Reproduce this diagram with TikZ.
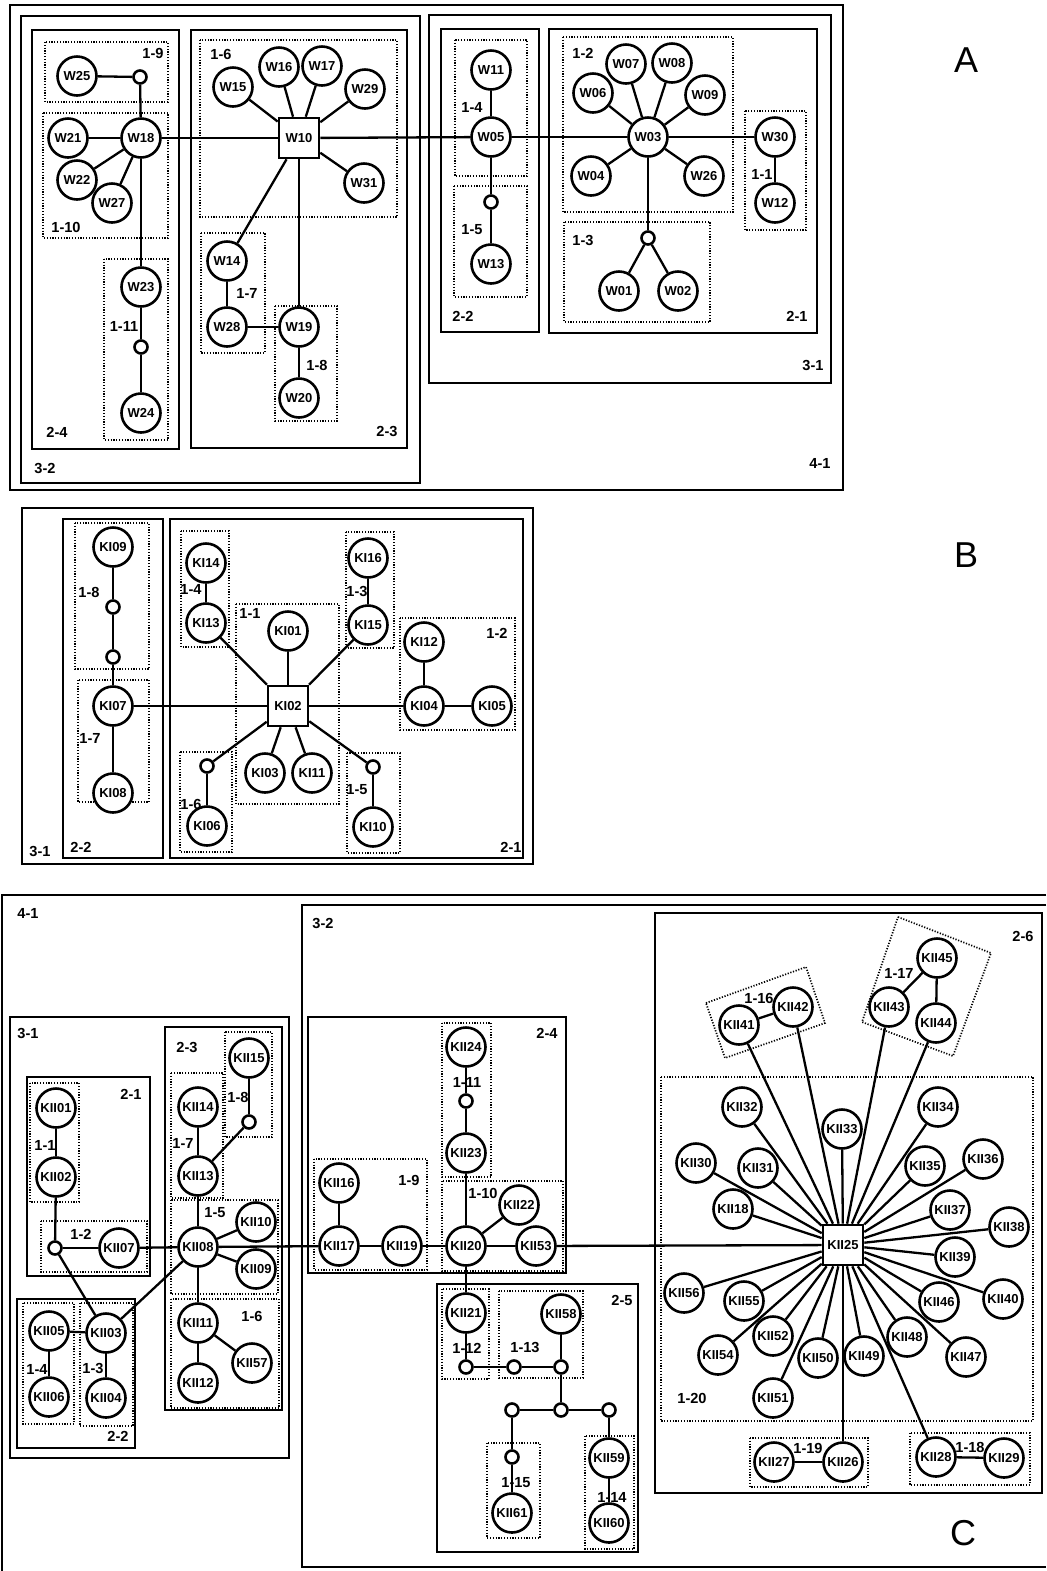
\documentclass[tikz,border=0pt]{standalone}
\usepackage{fontspec}
\setmainfont{Liberation Sans}
\begin{document}
\begin{tikzpicture}[x=0.5pt,y=-0.5pt,
  nd/.style={circle,draw,line width=1.3pt,minimum size=19.5pt,inner sep=0pt,fill=white,font=\fontsize{6.5}{7}\selectfont\bfseries},
  sq/.style={rectangle,draw,line width=1.3pt,minimum size=20pt,inner sep=0pt,fill=white,font=\fontsize{6.5}{7}\selectfont\bfseries},
  sm/.style={circle,draw,line width=1.3pt,minimum size=6.5pt,inner sep=0pt,fill=white},
  edge/.style={line width=1.15pt},
  box/.style={line width=1.1pt},
  dbox/.style={line width=0.85pt,dash pattern=on 0.6pt off 0.8pt},
  lab/.style={inner sep=0pt,font=\fontsize{7.3}{8}\selectfont\bfseries},
  big/.style={inner sep=0pt,font=\fontsize{18}{20}\selectfont}]
\useasboundingbox (0,0) rectangle (1046,1571);
\fill[white] (0,0) rectangle (1046,1571);

%%%%%%%%%%%%%%%% PANEL A %%%%%%%%%%%%%%%%
\draw[box] (10,5) rectangle (843,490);
\draw[box] (21,16) rectangle (420,483);
\draw[box] (429,15) rectangle (831,383);
\draw[box] (32,30) rectangle (179,449);
\draw[box] (191,30) rectangle (407,448);
\draw[box] (441,29) rectangle (539,332);
\draw[box] (549,29) rectangle (817,333);
\draw[dbox] (45,42) rectangle (168,102);
\draw[dbox] (43,113) rectangle (168,238);
\draw[dbox] (104,259) rectangle (168,440);
\draw[dbox] (200,40) rectangle (397,217);
\draw[dbox] (201,233) rectangle (265,353);
\draw[dbox] (275,306) rectangle (337,421);
\draw[dbox] (455,40) rectangle (527,176);
\draw[dbox] (454,186) rectangle (527,297);
\draw[dbox] (563,37) rectangle (733,212);
\draw[dbox] (564,222) rectangle (710,322);
\draw[dbox] (745,111) rectangle (806,230);

\node[lab] (lA19) at (153,53) {1-9};
\node[lab] (lA110) at (66,227) {1-10};
\node[lab] (lA16) at (221,54) {1-6};
\node[lab] (lA111) at (124,326) {1-11};
\node[lab] (lA24) at (57,432) {2-4};
\node[lab] (lA32) at (45,468) {3-2};
\node[lab] (lA17) at (247,293) {1-7};
\node[lab] (lA18) at (317,365) {1-8};
\node[lab] (lA23) at (387,431) {2-3};
\node[lab] (lA14) at (472,107) {1-4};
\node[lab] (lA15) at (472,230) {1-5};
\node[lab] (lA12) at (583,53) {1-2};
\node[lab] (lA13) at (583,240) {1-3};
\node[lab] (lA11) at (762,174) {1-1};
\node[lab] (lA22) at (463,316) {2-2};
\node[lab] (lA21) at (797,316) {2-1};
\node[lab] (lA31) at (813,365) {3-1};
\node[lab] (lA41) at (820,463) {4-1};
\node[big] (lA) at (966,60) {A};

\node[nd] (W25) at (77,76) {W25};
\node[sm] (a19) at (140,77) {};
\node[nd] (W18) at (141,138) {W18};
\node[nd] (W21) at (68,138) {W21};
\node[nd] (W22) at (77,180) {W22};
\node[nd] (W27) at (112,203) {W27};
\node[sq] (W10) at (299,138) {W10};
\node[nd] (W15) at (233,87) {W15};
\node[nd] (W16) at (279,67) {W16};
\node[nd] (W17) at (322,66) {W17};
\node[nd] (W29) at (365,89) {W29};
\node[nd] (W31) at (364,183) {W31};
\node[nd] (W14) at (227,261) {W14};
\node[nd] (W28) at (227,327) {W28};
\node[nd] (W19) at (299,327) {W19};
\node[nd] (W20) at (299,398) {W20};
\node[nd] (W23) at (141,287) {W23};
\node[sm] (a111) at (141,347) {};
\node[nd] (W24) at (141,413) {W24};
\node[nd] (W11) at (491,70) {W11};
\node[nd] (W05) at (491,137) {W05};
\node[sm] (a15) at (491,202) {};
\node[nd] (W13) at (491,264) {W13};
\node[nd] (W03) at (648,137) {W03};
\node[nd] (W06) at (593,93) {W06};
\node[nd] (W07) at (626,64) {W07};
\node[nd] (W08) at (672,63) {W08};
\node[nd] (W09) at (705,95) {W09};
\node[nd] (W04) at (591,176) {W04};
\node[nd] (W26) at (704,176) {W26};
\node[nd] (W30) at (775,137) {W30};
\node[nd] (W12) at (775,203) {W12};
\node[sm] (a13) at (648,238) {};
\node[nd] (W01) at (619,291) {W01};
\node[nd] (W02) at (678,291) {W02};

\draw[edge] (W25) -- (a19);
\draw[edge] (a19) -- (W18);
\draw[edge] (W18) -- (W21);
\draw[edge] (W18) -- (W22);
\draw[edge] (W18) -- (W27);
\draw[edge] (W18) -- (W23);
\draw[edge] (W23) -- (a111);
\draw[edge] (a111) -- (W24);
\draw[edge] (W18) -- (W10);
\draw[edge] (W10) -- (W15);
\draw[edge] (W10) -- (W16);
\draw[edge] (W10) -- (W17);
\draw[edge] (W10) -- (W29);
\draw[edge] (W10) -- (W31);
\draw[edge] (W10) -- (W14);
\draw[edge] (W10) -- (W19);
\draw[edge] (W14) -- (W28);
\draw[edge] (W28) -- (W19);
\draw[edge] (W19) -- (W20);
\draw[edge] (W10) -- (W05);
\draw[edge] (W05) -- (W11);
\draw[edge] (W05) -- (a15);
\draw[edge] (a15) -- (W13);
\draw[edge] (W05) -- (W03);
\draw[edge] (W03) -- (W06);
\draw[edge] (W03) -- (W07);
\draw[edge] (W03) -- (W08);
\draw[edge] (W03) -- (W09);
\draw[edge] (W03) -- (W04);
\draw[edge] (W03) -- (W26);
\draw[edge] (W03) -- (W30);
\draw[edge] (W30) -- (W12);
\draw[edge] (W03) -- (a13);
\draw[edge] (a13) -- (W01);
\draw[edge] (a13) -- (W02);

%%%%%%%%%%%%%%%% PANEL B %%%%%%%%%%%%%%%%
\draw[box] (22,508) rectangle (533,864);
\draw[box] (63,519) rectangle (163,858);
\draw[box] (170,519) rectangle (523,858);
\draw[dbox] (75,523) rectangle (149,669);
\draw[dbox] (78,680) rectangle (149,802);
\draw[dbox] (181,531) rectangle (229,647);
\draw[dbox] (236,604) rectangle (339,804);
\draw[dbox] (180,752) rectangle (232,852);
\draw[dbox] (346,532) rectangle (394,648);
\draw[dbox] (400,618) rectangle (515,730);
\draw[dbox] (347,753) rectangle (400,853);

\node[lab] (lB18) at (89,592) {1-8};
\node[lab] (lB17) at (90,738) {1-7};
\node[lab] (lB14) at (191,589) {1-4};
\node[lab] (lB11) at (250,613) {1-1};
\node[lab] (lB16) at (191,804) {1-6};
\node[lab] (lB31) at (40,851) {3-1};
\node[lab] (lB22) at (81,847) {2-2};
\node[lab] (lB13) at (357,591) {1-3};
\node[lab] (lB12) at (497,633) {1-2};
\node[lab] (lB15) at (357,790) {1-5};
\node[lab] (lB21) at (511,847) {2-1};
\node[big] (lB) at (966,555) {B};

\node[nd] (KI09) at (113,547) {KI09};
\node[sm] (b1) at (113,607) {};
\node[sm] (b2) at (113,657) {};
\node[nd] (KI07) at (113,706) {KI07};
\node[nd] (KI08) at (113,793) {KI08};
\node[nd] (KI14) at (206,563) {KI14};
\node[nd] (KI13) at (206,623) {KI13};
\node[sq] (KI02) at (288,706) {KI02};
\node[nd] (KI01) at (288,631) {KI01};
\node[nd] (KI03) at (265,773) {KI03};
\node[nd] (KI11) at (312,773) {KI11};
\node[nd] (KI15) at (368,625) {KI15};
\node[nd] (KI16) at (368,558) {KI16};
\node[nd] (KI12) at (424,642) {KI12};
\node[nd] (KI04) at (424,706) {KI04};
\node[nd] (KI05) at (492,706) {KI05};
\node[sm] (b15) at (373,767) {};
\node[nd] (KI10) at (373,827) {KI10};
\node[sm] (b16) at (207,766) {};
\node[nd] (KI06) at (207,826) {KI06};

\draw[edge] (KI09) -- (b1);
\draw[edge] (b1) -- (b2);
\draw[edge] (b2) -- (KI07);
\draw[edge] (KI07) -- (KI08);
\draw[edge] (KI07) -- (KI02);
\draw[edge] (KI02) -- (KI13);
\draw[edge] (KI13) -- (KI14);
\draw[edge] (KI02) -- (KI01);
\draw[edge] (KI02) -- (KI15);
\draw[edge] (KI15) -- (KI16);
\draw[edge] (KI02) -- (KI04);
\draw[edge] (KI04) -- (KI12);
\draw[edge] (KI04) -- (KI05);
\draw[edge] (KI02) -- (b15);
\draw[edge] (b15) -- (KI10);
\draw[edge] (KI02) -- (b16);
\draw[edge] (b16) -- (KI06);
\draw[edge] (KI02) -- (KI03);
\draw[edge] (KI02) -- (KI11);

%%%%%%%%%%%%%%%% PANEL C %%%%%%%%%%%%%%%%
\draw[box] (1046,895) -- (2,895) -- (2,1571);
\draw[box] (1046,905) -- (302,905) -- (302,1567) -- (1046,1567);
\draw[box] (10,1017) rectangle (289,1458);
\draw[box] (27,1077) rectangle (150,1276);
\draw[box] (165,1027) rectangle (282,1410);
\draw[box] (17,1299) rectangle (135,1448);
\draw[box] (308,1017) rectangle (566,1273);
\draw[box] (437,1284) rectangle (638,1552);
\draw[box] (655,913) rectangle (1042,1493);

\draw[dbox] (30,1083) rectangle (79,1202);
\draw[dbox] (41,1221) rectangle (147,1272);
\draw[dbox] (171,1073) rectangle (223,1198);
\draw[dbox] (225,1032) rectangle (272,1137);
\draw[dbox] (171,1200) rectangle (278,1294);
\draw[dbox] (171,1299) rectangle (279,1408);
\draw[dbox] (23,1303) rectangle (74,1424);
\draw[dbox] (80,1303) rectangle (133,1426);
\draw[dbox] (314,1159) rectangle (427,1270);
\draw[dbox] (442,1023) rectangle (491,1177);
\draw[dbox] (442,1181) rectangle (563,1271);
\draw[dbox] (442,1289) rectangle (489,1379);
\draw[dbox] (499,1291) rectangle (583,1378);
\draw[dbox] (487,1443) rectangle (540,1538);
\draw[dbox] (585,1436) rectangle (634,1549);
\draw[dbox] (661,1077) rectangle (1033,1421);
\draw[dbox] (750,1438) rectangle (868,1487);
\draw[dbox] (910,1433) rectangle (1030,1485);
\draw[dbox] (706,1003) -- (806,967) -- (825,1023) -- (725,1058) -- cycle;
\draw[dbox] (898,917) -- (991,953) -- (953,1056) -- (862,1022) -- cycle;

\node[lab] (lC41) at (28,913) {4-1};
\node[lab] (lC31) at (28,1033) {3-1};
\node[lab] (lC23) at (187,1047) {2-3};
\node[lab] (lC21) at (131,1094) {2-1};
\node[lab] (lC11) at (45,1145) {1-1};
\node[lab] (lC18) at (238,1097) {1-8};
\node[lab] (lC17) at (183,1143) {1-7};
\node[lab] (lC15) at (215,1213) {1-5};
\node[lab] (lC12) at (81,1234) {1-2};
\node[lab] (lC16) at (252,1316) {1-6};
\node[lab] (lC14) at (37,1369) {1-4};
\node[lab] (lC13) at (93,1368) {1-3};
\node[lab] (lC22) at (118,1436) {2-2};
\node[lab] (lC32) at (323,923) {3-2};
\node[lab] (lC24) at (547,1033) {2-4};
\node[lab] (lC111) at (467,1082) {1-11};
\node[lab] (lC19) at (409,1180) {1-9};
\node[lab] (lC110) at (483,1193) {1-10};
\node[lab] (lC25) at (622,1300) {2-5};
\node[lab] (lC112) at (467,1348) {1-12};
\node[lab] (lC113) at (525,1347) {1-13};
\node[lab] (lC115) at (516,1483) {1-15};
\node[lab] (lC114) at (612,1497) {1-14};
\node[lab] (lC26) at (1023,936) {2-6};
\node[lab] (lC116) at (759,998) {1-16};
\node[lab] (lC117) at (899,973) {1-17};
\node[lab] (lC120) at (692,1398) {1-20};
\node[lab] (lC119) at (808,1448) {1-19};
\node[lab] (lC118) at (970,1447) {1-18};
\node[big] (lC) at (963,1533) {C};

\node[nd] (c01) at (56,1108) {KII01};
\node[nd] (c02) at (56,1177) {KII02};
\node[sm] (s12) at (55,1248) {};
\node[nd] (c07) at (119,1248) {KII07};
\node[nd] (c03) at (106,1333) {KII03};
\node[nd] (c05) at (49,1331) {KII05};
\node[nd] (c06) at (49,1397) {KII06};
\node[nd] (c04) at (106,1398) {KII04};
\node[nd] (c08) at (198,1247) {KII08};
\node[nd] (c10) at (256,1222) {KII10};
\node[nd] (c09) at (256,1269) {KII09};
\node[nd] (c11) at (198,1323) {KII11};
\node[nd] (c12) at (198,1383) {KII12};
\node[nd] (c57) at (252,1363) {KII57};
\node[nd] (c13) at (198,1176) {KII13};
\node[nd] (c14) at (198,1107) {KII14};
\node[nd] (c15) at (249,1058) {KII15};
\node[sm] (s18) at (249,1122) {};
\node[nd] (c16) at (339,1183) {KII16};
\node[nd] (c17) at (339,1246) {KII17};
\node[nd] (c19) at (402,1246) {KII19};
\node[nd] (c20) at (466,1246) {KII20};
\node[nd] (c53) at (536,1246) {KII53};
\node[nd] (c22) at (519,1205) {KII22};
\node[nd] (c23) at (466,1153) {KII23};
\node[sm] (s111) at (466,1101) {};
\node[nd] (c24) at (466,1047) {KII24};
\node[nd] (c21) at (466,1313) {KII21};
\node[sm] (s112) at (466,1367) {};
\node[sm] (s113a) at (514,1367) {};
\node[sm] (s113b) at (561,1367) {};
\node[nd] (c58) at (561,1314) {KII58};
\node[sm] (sc) at (561,1410) {};
\node[sm] (sl) at (512,1410) {};
\node[sm] (sr) at (609,1410) {};
\node[sm] (s115) at (512,1457) {};
\node[nd] (c61) at (512,1513) {KII61};
\node[nd] (c59) at (609,1458) {KII59};
\node[nd] (c60) at (609,1523) {KII60};

\node[sq] (c25) at (843,1245) {KII25};
\node[nd] (c41) at (739,1025) {KII41};
\node[nd] (c42) at (793,1007) {KII42};
\node[nd] (c43) at (889,1007) {KII43};
\node[nd] (c44) at (936,1023) {KII44};
\node[nd] (c45) at (937,958) {KII45};
\node[nd] (c32) at (742,1107) {KII32};
\node[nd] (c33) at (842,1129) {KII33};
\node[nd] (c34) at (938,1107) {KII34};
\node[nd] (c30) at (696,1163) {KII30};
\node[nd] (c31) at (758,1168) {KII31};
\node[nd] (c35) at (925,1166) {KII35};
\node[nd] (c36) at (983,1159) {KII36};
\node[nd] (c18) at (733,1209) {KII18};
\node[nd] (c37) at (950,1210) {KII37};
\node[nd] (c38) at (1009,1227) {KII38};
\node[nd] (c39) at (955,1257) {KII39};
\node[nd] (c40) at (1003,1299) {KII40};
\node[nd] (c56) at (684,1293) {KII56};
\node[nd] (c55) at (744,1301) {KII55};
\node[nd] (c46) at (939,1302) {KII46};
\node[nd] (c52) at (773,1336) {KII52};
\node[nd] (c54) at (718,1355) {KII54};
\node[nd] (c50) at (818,1358) {KII50};
\node[nd] (c49) at (864,1356) {KII49};
\node[nd] (c48) at (907,1337) {KII48};
\node[nd] (c47) at (966,1357) {KII47};
\node[nd] (c51) at (773,1398) {KII51};
\node[nd] (c27) at (774,1462) {KII27};
\node[nd] (c26) at (843,1462) {KII26};
\node[nd] (c28) at (936,1457) {KII28};
\node[nd] (c29) at (1004,1458) {KII29};

\draw[edge] (c01) -- (c02);
\draw[edge] (c02) -- (s12);
\draw[edge] (s12) -- (c07);
\draw[edge] (s12) -- (c03);
\draw[edge] (c05) -- (c03);
\draw[edge] (c05) -- (c06);
\draw[edge] (c03) -- (c04);
\draw[edge] (c03) -- (c08);
\draw[edge] (c07) -- (c08);
\draw[edge] (c08) -- (c10);
\draw[edge] (c08) -- (c09);
\draw[edge] (c08) -- (c13);
\draw[edge] (c08) -- (c11);
\draw[edge] (c11) -- (c12);
\draw[edge] (c11) -- (c57);
\draw[edge] (c13) -- (c14);
\draw[edge] (c13) -- (s18);
\draw[edge] (s18) -- (c15);
\draw[edge] (c08) -- (c17);
\draw[edge] (c16) -- (c17);
\draw[edge] (c17) -- (c19);
\draw[edge] (c19) -- (c20);
\draw[edge] (c20) -- (c53);
\draw[edge] (c20) -- (c22);
\draw[edge] (c20) -- (c23);
\draw[edge] (c23) -- (s111);
\draw[edge] (s111) -- (c24);
\draw[edge] (c53) -- (c25);
\draw[edge] (c20) -- (c21);
\draw[edge] (c21) -- (s112);
\draw[edge] (s112) -- (s113a);
\draw[edge] (s113a) -- (s113b);
\draw[edge] (s113b) -- (c58);
\draw[edge] (s113b) -- (sc);
\draw[edge] (sc) -- (sl);
\draw[edge] (sc) -- (sr);
\draw[edge] (sl) -- (s115);
\draw[edge] (s115) -- (c61);
\draw[edge] (sr) -- (c59);
\draw[edge] (c59) -- (c60);
\foreach \t in {41,42,43,44,32,33,34,30,31,35,36,18,37,38,39,40,56,55,46,52,54,50,49,48,47,51,26,28}
  \draw[edge] (c25) -- (c\t);
\draw[edge] (c41) -- (c42);
\draw[edge] (c43) -- (c45);
\draw[edge] (c45) -- (c44);
\draw[edge] (c27) -- (c26);
\draw[edge] (c28) -- (c29);
\end{tikzpicture}
\end{document}
